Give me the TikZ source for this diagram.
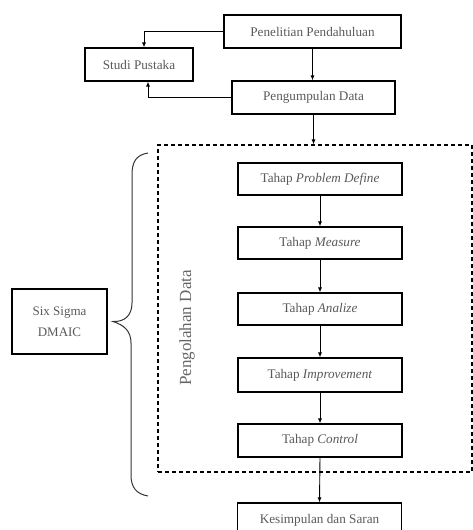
\documentclass[tikz,border=0pt]{standalone}
\usepackage{fontspec}
\setmainfont{Liberation Serif}
\usetikzlibrary{arrows.meta}

\begin{document}
\begin{tikzpicture}[x=1pt, y=-1pt,
  kotak/.style={draw, line width=1.1pt, minimum width=164pt, minimum height=32pt, inner sep=0pt, text=black!65, font=\fontsize{13.2}{15}\selectfont},
  panah/.style={-{Latex[length=5pt,width=4pt]}, line width=0.9pt}]

\clip (0,0) rectangle (473,530);

\node [kotak, minimum width=177pt, minimum height=33pt] (pen) at (312.5,31.5) {Penelitian Pendahuluan};
\node [kotak, minimum width=108pt, minimum height=33pt] (studi) at (139,64.5) {Studi Pustaka};
\node [kotak, minimum width=163pt, minimum height=33pt] (kumpul) at (313.5,97.5) {Pengumpulan Data};

\node [draw, dashed, dash pattern=on 4pt off 3pt, line width=1.1pt, minimum width=314pt, minimum height=327pt, inner sep=0pt] (olah) at (315,308.5) {};
\node [rotate=90, text=black!60, font=\fontsize{17}{19}\selectfont] (judul) at (187,328) {Pengolahan Data};

\node [kotak] (define) at (320,179) {Tahap \textit{Problem Define}};
\node [kotak] (measure) at (320,243) {Tahap \textit{Measure}};
\node [kotak] (analize) at (320,309) {Tahap \textit{Analize}};
\node [kotak, minimum height=34pt] (improve) at (320,375) {Tahap \textit{Improvement}};
\node [kotak, minimum height=33pt] (control) at (320,440.5) {Tahap \textit{Control}};
\node [kotak, minimum height=34pt] (simpul) at (319.5,520) {Kesimpulan dan Saran};

\node [kotak, minimum width=95pt, minimum height=65pt, align=center, font=\fontsize{13}{21}\selectfont] (dmaic) at (59.5,321.5) {Six Sigma\\DMAIC};

\draw [panah] (pen.west) -| ([xshift=5pt]studi.north);
\draw [panah] (kumpul.west) -| ([xshift=9pt]studi.south);
\draw [panah] (pen.south) -- (pen.south |- kumpul.north);
\draw [panah] (kumpul.south) -- (kumpul.south |- olah.north);

\foreach \a/\b in {define/measure, measure/analize, analize/improve, improve/control, control/simpul}
  \draw [panah] (\a.south) -- (\b.north);

% kurung kurawal
\draw [line width=1pt, black!80] (148,153) .. controls (136,155) and (132,162) .. (132,175) -- (132,303)
  .. controls (132,316) and (124,322) .. (dmaic.east -| 113,0) .. controls (124,325) and (131,331) .. (131,343)
  -- (131,475) .. controls (131,487) and (136,494) .. (148,496);

\end{tikzpicture}
\end{document}
